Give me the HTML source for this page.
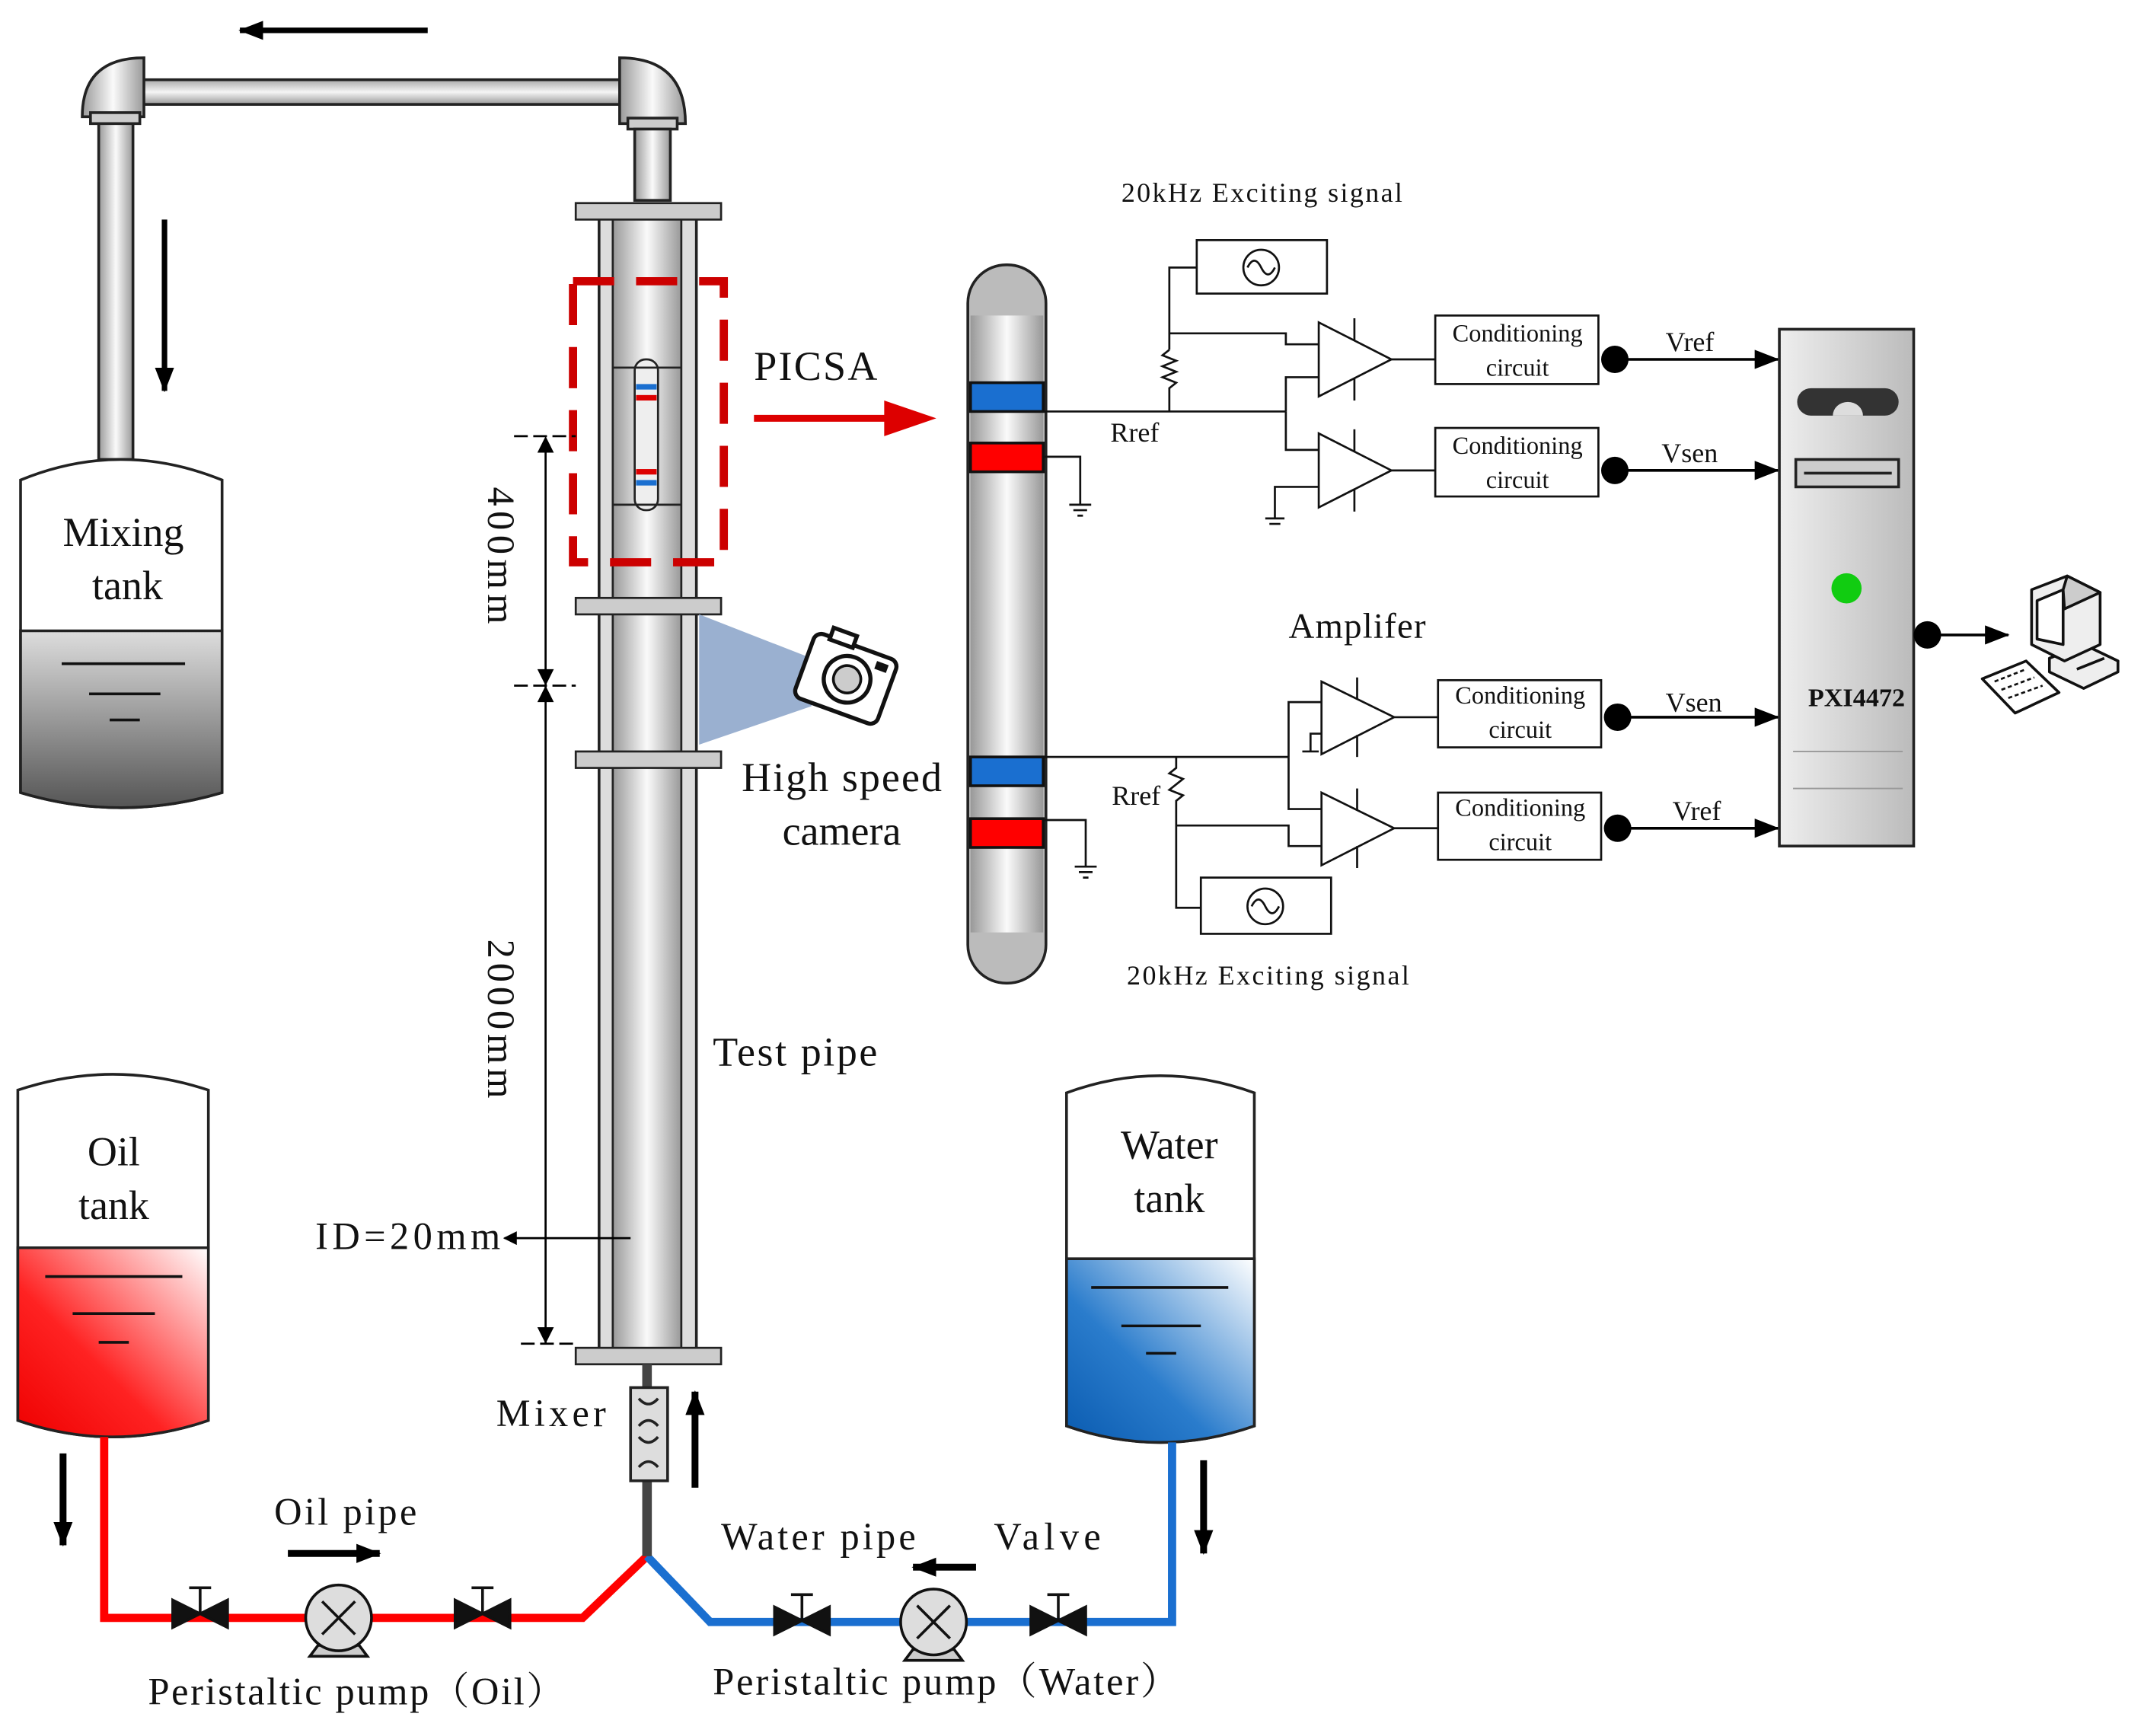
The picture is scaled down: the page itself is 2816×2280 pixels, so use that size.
<!DOCTYPE html>
<html><head><meta charset="utf-8"><style>html,body{margin:0;padding:0;background:#fff}svg{display:block}text{font-family:"Liberation Serif","Noto Serif CJK SC",serif;fill:#111}</style></head><body>
<svg width="2816" height="2280" viewBox="0 0 1564 1266" xmlns="http://www.w3.org/2000/svg">
<defs>
<linearGradient id="pg" x1="0" x2="1"><stop offset="0" stop-color="#999"/><stop offset="0.5" stop-color="#fafafa"/><stop offset="1" stop-color="#999"/></linearGradient>
<linearGradient id="pgh" x1="0" y1="0" x2="0" y2="1"><stop offset="0" stop-color="#aaa"/><stop offset="0.5" stop-color="#f5f5f5"/><stop offset="1" stop-color="#999"/></linearGradient>
<linearGradient id="gray" x1="0" y1="0" x2="0" y2="1"><stop offset="0" stop-color="#ddd"/><stop offset="1" stop-color="#555"/></linearGradient>
<linearGradient id="red" x1="1" y1="0" x2="0" y2="1"><stop offset="0" stop-color="#fff"/><stop offset="0.6" stop-color="#f22"/><stop offset="1" stop-color="#e00"/></linearGradient>
<linearGradient id="blue" x1="1" y1="0" x2="0" y2="1"><stop offset="0" stop-color="#fff"/><stop offset="0.6" stop-color="#2a7ccc"/><stop offset="1" stop-color="#0a5bb0"/></linearGradient>
<linearGradient id="pxi" x1="0" x2="1"><stop offset="0" stop-color="#eee"/><stop offset="1" stop-color="#bbb"/></linearGradient>
<marker id="ah" markerWidth="10" markerHeight="10" refX="9" refY="5" orient="auto" markerUnits="userSpaceOnUse"><path d="M0,0 L10,5 L0,10z" fill="#000"/></marker>
<marker id="ahs" markerWidth="18" markerHeight="14" refX="17" refY="7" orient="auto" markerUnits="userSpaceOnUse"><path d="M0,0 L18,7 L0,14z" fill="#000"/></marker>
</defs>

<rect x="72" y="80" width="25" height="255" fill="url(#pg)" stroke="#222" stroke-width="2"/>
<rect x="95" y="58" width="360" height="18" fill="url(#pgh)" stroke="#222" stroke-width="2"/>
<path d="M60,85 Q60,42 105,42 L105,85 Z" fill="url(#pg)" stroke="#222" stroke-width="2"/>
<rect x="66" y="82" width="36" height="8" fill="#ccc" stroke="#222" stroke-width="2"/>
<path d="M500,90 Q500,42 452,42 L452,90 Z" fill="url(#pg)" stroke="#222" stroke-width="2"/>
<rect x="458" y="86" width="36" height="8" fill="#ccc" stroke="#222" stroke-width="2"/>
<rect x="463" y="94" width="26" height="52" fill="url(#pg)" stroke="#222" stroke-width="2"/>
<line x1="312" y1="22" x2="175" y2="22" stroke="#000" stroke-width="4" marker-end="url(#ahs)"/>
<line x1="120" y1="160" x2="120" y2="285" stroke="#000" stroke-width="4" marker-end="url(#ahs)"/>

<path d="M15,350 Q88,320 162,350 L162,578 Q88,600 15,578 Z" fill="#fff" stroke="#222" stroke-width="2"/>
<path d="M15,460 L162,460 L162,578 Q88,600 15,578 Z" fill="url(#gray)" stroke="#222" stroke-width="2"/>
<line x1="45" y1="484" x2="135" y2="484" stroke="#111" stroke-width="2"/><line x1="65" y1="506" x2="117" y2="506" stroke="#111" stroke-width="2"/><line x1="80" y1="525" x2="102" y2="525" stroke="#111" stroke-width="2"/>
<text x="90" y="398" font-size="30" text-anchor="middle">Mixing</text><text x="93" y="437" font-size="30" text-anchor="middle">tank</text>

<rect x="437" y="158" width="71" height="828" fill="#ddd" stroke="#222" stroke-width="2"/>
<rect x="447" y="158" width="50" height="828" fill="url(#pg)" stroke="#222" stroke-width="1.5"/>
<rect x="420" y="148" width="106" height="12" fill="#ccc" stroke="#222" stroke-width="1.5"/>
<rect x="420" y="436" width="106" height="12" fill="#ccc" stroke="#222" stroke-width="1.5"/>
<rect x="420" y="548" width="106" height="12" fill="#ccc" stroke="#222" stroke-width="1.5"/>
<rect x="420" y="983" width="106" height="12" fill="#ccc" stroke="#222" stroke-width="1.5"/>
<rect x="418" y="205" width="110" height="205" fill="none" stroke="#c00" stroke-width="6" stroke-dasharray="30,16"/>
<rect x="463" y="262" width="17" height="110" rx="8" fill="#eee" stroke="#222" stroke-width="1.5"/>
<line x1="447" y1="268" x2="497" y2="268" stroke="#222" stroke-width="1.5"/><line x1="447" y1="368" x2="497" y2="368" stroke="#222" stroke-width="1.5"/>
<rect x="464" y="280" width="15" height="4" fill="#1a6fd0"/><rect x="464" y="288" width="15" height="4" fill="#d00"/>
<rect x="464" y="342" width="15" height="4" fill="#d00"/><rect x="464" y="350" width="15" height="4" fill="#1a6fd0"/>

<line x1="398" y1="320" x2="398" y2="980" stroke="#000" stroke-width="1.5"/>
<line x1="375" y1="318" x2="420" y2="318" stroke="#000" stroke-width="1.5" stroke-dasharray="10,4"/>
<line x1="375" y1="500" x2="420" y2="500" stroke="#000" stroke-width="1.5" stroke-dasharray="10,4"/>
<line x1="380" y1="980" x2="420" y2="980" stroke="#000" stroke-width="1.5" stroke-dasharray="10,4"/>
<path d="M392,330 L398,318 L404,330 Z M392,488 L398,500 L404,488 Z M392,512 L398,500 L404,512 Z M392,968 L398,980 L404,968 Z" fill="#000"/>
<text x="0" y="0" font-size="28" transform="translate(356,355) rotate(90)" textLength="100">400mm</text>
<text x="0" y="0" font-size="28" transform="translate(356,685) rotate(90)" textLength="116">2000mm</text>
<text x="230" y="911" font-size="28" textLength="135">ID=20mm</text>
<line x1="460" y1="903" x2="368" y2="903" stroke="#000" stroke-width="1.5" marker-end="url(#ah)"/>

<polygon points="510,448 510,543 592,515 592,480" fill="#9ab0d0"/>
<g transform="translate(582,455) rotate(20 35 40)">
<rect x="3" y="15" width="64" height="50" rx="6" fill="#fff" stroke="#111" stroke-width="3"/>
<rect x="14" y="8" width="18" height="9" fill="#fff" stroke="#111" stroke-width="3"/>
<circle cx="36" cy="40" r="17" fill="#fff" stroke="#111" stroke-width="3"/><circle cx="36" cy="40" r="10" fill="#ccc" stroke="#111" stroke-width="2"/>
<rect x="52" y="20" width="9" height="6" fill="#111"/></g>
<text x="541" y="577" font-size="30" textLength="146">High speed</text><text x="614" y="616" font-size="30" text-anchor="middle">camera</text>
<text x="550" y="277" font-size="30" textLength="90">PICSA</text>
<line x1="550" y1="305" x2="660" y2="305" stroke="#d00" stroke-width="5"/><path d="M645,292 L683,305 L645,318 Z" fill="#d00"/>
<text x="520" y="777" font-size="30" textLength="120">Test pipe</text>

<rect x="706" y="193" width="57" height="524" rx="28" fill="#bbb" stroke="#222" stroke-width="2"/>
<rect x="708" y="230" width="53" height="450" fill="url(#pg)"/>
<rect x="708" y="279" width="53" height="21" fill="#1a6fd0" stroke="#111" stroke-width="2"/>
<rect x="708" y="323" width="53" height="21" fill="#f00" stroke="#111" stroke-width="2"/>
<rect x="708" y="552" width="53" height="21" fill="#1a6fd0" stroke="#111" stroke-width="2"/>
<rect x="708" y="597" width="53" height="21" fill="#f00" stroke="#111" stroke-width="2"/>

<g stroke="#111" stroke-width="1.5" fill="none">
<line x1="761" y1="300" x2="938" y2="300"/>
<path d="M761,333 L788,333 L788,368"/><path d="M780,368 H796 M783,372 H793 M786,376 H790"/>
<path d="M873,195 L853,195 L853,255"/><path d="M853,255 l-5,4 l10,4 l-10,4 l10,4 l-10,4 l10,4 l-5,4 L853,300"/>
<path d="M853,243 L938,243 L938,251 L962,251"/>
<path d="M938,300 L938,275 L962,275"/>
<path d="M938,300 L938,328 L962,328"/>
<path d="M962,355 L930,355 L930,378"/><path d="M923,378 H937 M926,382 H934"/>
<rect x="873" y="175" width="95" height="39"/><circle cx="920" cy="195" r="13"/><path d="M910,195 q5,-10 10,0 q5,10 10,0"/>
<path d="M962,235 L1015,262 L962,289 Z"/><line x1="988" y1="232" x2="988" y2="248"/><line x1="988" y1="276" x2="988" y2="292"/>
<path d="M962,316 L1015,343 L962,370 Z"/><line x1="988" y1="313" x2="988" y2="329"/><line x1="988" y1="357" x2="988" y2="373"/>
<line x1="1015" y1="262" x2="1047" y2="262"/><line x1="1015" y1="343" x2="1047" y2="343"/>
<rect x="1047" y="230" width="119" height="50"/><rect x="1047" y="312" width="119" height="50"/>
<line x1="761" y1="552" x2="940" y2="552"/>
<path d="M761,598 L792,598 L792,632"/><path d="M784,632 H800 M787,636 H797 M790,640 H794"/>
<path d="M858,552 L858,560 l-5,4 l10,4 l-5,4 l-5,4 l10,4 l-5,4 L858,662 L876,662"/>
<path d="M940,552 L940,512 L964,512"/>
<path d="M940,552 L940,590 L964,590"/>
<path d="M964,535 L956,535 L956,548"/><path d="M950,548 H962"/>
<path d="M858,602 L940,602 L940,617 L964,617"/>
<rect x="876" y="640" width="95" height="41"/><circle cx="923" cy="661" r="13"/><path d="M913,661 q5,-10 10,0 q5,10 10,0"/>
<path d="M964,497 L1017,523 L964,550 Z"/><line x1="990" y1="494" x2="990" y2="510"/><line x1="990" y1="536" x2="990" y2="552"/>
<path d="M964,578 L1017,604 L964,631 Z"/><line x1="990" y1="575" x2="990" y2="591"/><line x1="990" y1="617" x2="990" y2="633"/>
<line x1="1017" y1="523" x2="1049" y2="523"/><line x1="1017" y1="604" x2="1049" y2="604"/>
<rect x="1049" y="496" width="119" height="49"/><rect x="1049" y="578" width="119" height="49"/>
</g>
<g font-size="18" text-anchor="middle">
<text x="1107" y="249">Conditioning</text><text x="1107" y="274">circuit</text>
<text x="1107" y="331">Conditioning</text><text x="1107" y="356">circuit</text>
<text x="1109" y="513">Conditioning</text><text x="1109" y="538">circuit</text>
<text x="1109" y="595">Conditioning</text><text x="1109" y="620">circuit</text>
</g>
<g stroke="#000" stroke-width="2">
<line x1="1178" y1="262" x2="1297" y2="262" marker-end="url(#ahs)"/><line x1="1178" y1="343" x2="1297" y2="343" marker-end="url(#ahs)"/>
<line x1="1180" y1="523" x2="1297" y2="523" marker-end="url(#ahs)"/><line x1="1180" y1="604" x2="1297" y2="604" marker-end="url(#ahs)"/>
</g>
<circle cx="1178" cy="262" r="10"/><circle cx="1178" cy="343" r="10"/><circle cx="1180" cy="523" r="10"/><circle cx="1180" cy="604" r="10"/>
<g font-size="20"><text x="1215" y="256">Vref</text><text x="1212" y="337">Vsen</text><text x="1215" y="519">Vsen</text><text x="1220" y="598">Vref</text>
<text x="810" y="322">Rref</text><text x="811" y="587">Rref</text>
<text x="818" y="147" textLength="205">20kHz Exciting signal</text><text x="822" y="718" textLength="206">20kHz Exciting signal</text></g>
<text x="940" y="465" font-size="26" textLength="100">Amplifer</text>

<rect x="1298" y="240" width="98" height="377" fill="url(#pxi)" stroke="#222" stroke-width="2"/>
<rect x="1311" y="283" width="74" height="20" rx="10" fill="#333"/><path d="M1337,303 a11,10 0 0 1 22,0 z" fill="#ddd"/>
<rect x="1310" y="335" width="75" height="20" fill="#ccc" stroke="#222" stroke-width="2"/><line x1="1316" y1="345" x2="1380" y2="345" stroke="#222" stroke-width="2"/>
<circle cx="1347" cy="429" r="11" fill="#1c1"/>
<text x="1319" y="515" font-size="19" font-weight="bold">PXI4472</text>
<line x1="1308" y1="548" x2="1388" y2="548" stroke="#999"/><line x1="1308" y1="575" x2="1388" y2="575" stroke="#999"/>
<circle cx="1406" cy="463" r="10"/><line x1="1406" y1="463" x2="1465" y2="463" stroke="#000" stroke-width="2" marker-end="url(#ahs)"/>
<g stroke="#111" stroke-width="2" stroke-linejoin="round">
<path d="M1495,480 L1520,470 L1545,482 L1520,494 Z" fill="#ddd"/>
<path d="M1520,470 L1545,482 L1545,490 L1520,502 L1495,490 L1495,480 Z" fill="#eee"/>
<path d="M1482,430 L1508,420 L1532,432 L1532,470 L1506,482 L1482,470 Z" fill="#eee"/>
<path d="M1486,438 L1505,430 L1505,470 L1486,466 Z" fill="#fff"/>
<path d="M1508,420 L1532,432 L1506,444 L1505,430 Z" fill="#ccc"/>
<line x1="1515" y1="488" x2="1535" y2="480"/>
<path d="M1446,495 L1478,482 L1502,505 L1470,520 Z" fill="#fff"/>
<path d="M1455,497 L1478,488 M1460,503 L1484,494 M1465,509 L1490,500" stroke-width="1.5" stroke-dasharray="3,2"/>
</g>

<path d="M13,795 Q82,772 152,795 L152,1036 Q82,1060 13,1036 Z" fill="#fff" stroke="#222" stroke-width="2"/>
<path d="M13,910 L152,910 L152,1036 Q82,1060 13,1036 Z" fill="url(#red)" stroke="#222" stroke-width="2"/>
<line x1="33" y1="931" x2="133" y2="931" stroke="#111" stroke-width="2"/><line x1="53" y1="958" x2="113" y2="958" stroke="#111" stroke-width="2"/><line x1="72" y1="979" x2="94" y2="979" stroke="#111" stroke-width="2"/>
<text x="83" y="850" font-size="30" text-anchor="middle">Oil</text><text x="83" y="889" font-size="30" text-anchor="middle">tank</text>
<path d="M778,797 Q846,772 915,797 L915,1040 Q846,1064 778,1040 Z" fill="#fff" stroke="#222" stroke-width="2"/>
<path d="M778,918 L915,918 L915,1040 Q846,1064 778,1040 Z" fill="url(#blue)" stroke="#222" stroke-width="2"/>
<line x1="796" y1="939" x2="896" y2="939" stroke="#111" stroke-width="2"/><line x1="818" y1="967" x2="876" y2="967" stroke="#111" stroke-width="2"/><line x1="836" y1="987" x2="858" y2="987" stroke="#111" stroke-width="2"/>
<text x="853" y="845" font-size="30" text-anchor="middle">Water</text><text x="853" y="884" font-size="30" text-anchor="middle">tank</text>

<path d="M76,1048 L76,1180 L425,1180 L472,1135" fill="none" stroke="#f00" stroke-width="6"/>
<path d="M472,1135 L518,1183 L855,1183 L855,1052" fill="none" stroke="#1a6fd0" stroke-width="6"/>
<line x1="472" y1="1080" x2="472" y2="1135" stroke="#444" stroke-width="7"/>
<line x1="472" y1="995" x2="472" y2="1013" stroke="#444" stroke-width="7"/>
<rect x="460" y="1012" width="27" height="68" fill="#ddd" stroke="#222" stroke-width="2"/>
<path d="M466,1020 q7,8 14,0 M466,1040 q7,-8 14,0 M466,1048 q7,8 14,0 M466,1070 q7,-8 14,0" fill="none" stroke="#222" stroke-width="2"/>
<line x1="507" y1="1085" x2="507" y2="1015" stroke="#000" stroke-width="5" marker-end="url(#ahs)"/>
<text x="362" y="1040" font-size="28" textLength="80">Mixer</text>
<g fill="#111" stroke="#111" stroke-width="2">
<path d="M126,1167 L166,1187 L166,1167 L126,1187 Z"/><line x1="146" y1="1177" x2="146" y2="1158"/><line x1="138" y1="1158" x2="154" y2="1158"/>
<path d="M332,1167 L372,1187 L372,1167 L332,1187 Z"/><line x1="352" y1="1177" x2="352" y2="1158"/><line x1="344" y1="1158" x2="360" y2="1158"/>
<path d="M565,1172 L605,1192 L605,1172 L565,1192 Z"/><line x1="585" y1="1182" x2="585" y2="1163"/><line x1="577" y1="1163" x2="593" y2="1163"/>
<path d="M752,1172 L792,1192 L792,1172 L752,1192 Z"/><line x1="772" y1="1182" x2="772" y2="1163"/><line x1="764" y1="1163" x2="780" y2="1163"/>
</g>
<g stroke="#111" stroke-width="2">
<path d="M232,1200 L262,1200 L268,1208 L226,1208 Z" fill="#ccc"/>
<circle cx="247" cy="1180" r="24" fill="#ddd"/><path d="M235,1168 L259,1192 M259,1168 L235,1192"/>
<path d="M666,1203 L696,1203 L702,1211 L660,1211 Z" fill="#ccc"/>
<circle cx="681" cy="1183" r="24" fill="#ddd"/><path d="M669,1171 L693,1195 M693,1171 L669,1195"/>
</g>
<line x1="46" y1="1060" x2="46" y2="1127" stroke="#000" stroke-width="5" marker-end="url(#ahs)"/>
<line x1="210" y1="1133" x2="277" y2="1133" stroke="#000" stroke-width="5" marker-end="url(#ahs)"/>
<line x1="712" y1="1143" x2="666" y2="1143" stroke="#000" stroke-width="5" marker-end="url(#ahs)"/>
<line x1="878" y1="1065" x2="878" y2="1133" stroke="#000" stroke-width="5" marker-end="url(#ahs)"/>
<g font-size="28">
<text x="200" y="1112" textLength="104">Oil pipe</text>
<text x="526" y="1130" textLength="142">Water pipe</text>
<text x="725" y="1130" textLength="78">Valve</text>
<text x="108" y="1243" textLength="304">Peristaltic pump（Oil）</text>
<text x="520" y="1236" textLength="340">Peristaltic pump（Water）</text>
</g>
</svg>
</body></html>
